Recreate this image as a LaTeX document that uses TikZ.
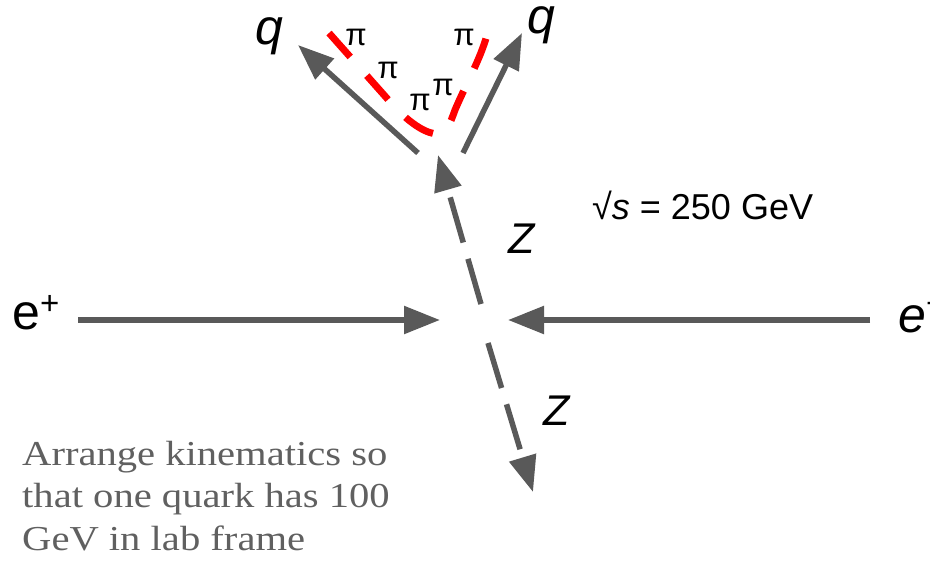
\documentclass[tikz,border=0pt]{standalone}
\usepackage{fontspec}
\setmainfont{Liberation Sans}
\newfontfamily\notefont[FakeStretch=1.16]{Liberation Serif}
\usetikzlibrary{arrows.meta}
\definecolor{arrowgray}{HTML}{595959}
\definecolor{notegray}{HTML}{606060}
\definecolor{pired}{HTML}{FF0000}
\begin{document}
\begin{tikzpicture}[x=1pt,y=-1pt,
  arr/.style={draw=arrowgray, line width=5.5pt, -{Triangle[length=36pt,width=27pt]}},
  zarr/.style={arr, dash pattern=on 47pt off 17pt},
  biglabel/.style={anchor=base west, inner sep=0pt, font=\fontsize{50}{50}\selectfont},
  zlabel/.style={anchor=base west, inner sep=0pt, font=\fontsize{43}{43}\selectfont\itshape},
  pilabel/.style={anchor=center, inner sep=0pt, font=\fontsize{31}{31}\selectfont},
  notetext/.style={anchor=base west, inner sep=0pt, text=notegray, font=\notefont\fontsize{35}{43}\selectfont},
  jet/.style={draw=pired, line width=7pt, dash pattern=on 32pt off 25pt}]
\useasboundingbox (0,0) rectangle (930,563);

% beam endpoints
\coordinate (lt) at (78,320);
\coordinate (ltip) at (440,320);
\coordinate (rt) at (870,320);
\coordinate (rtip) at (508,320);
% Z endpoints
\coordinate (zus) at (481,304);
\coordinate (zut) at (438,155);
\coordinate (zds) at (488,343);
\coordinate (zdt) at (533,492);
% quark endpoints
\coordinate (qls) at (418,153);
\coordinate (qlt) at (298,45);
\coordinate (qrs) at (463,153);
\coordinate (qrt) at (522,33);

\draw[arr] (lt) -- (ltip);
\draw[arr] (rt) -- (rtip);
\draw[zarr] (zus) -- (zut);
\draw[zarr] (zds) -- (zdt);
\draw[arr] (qls) -- (qlt);
\draw[arr] (qrs) -- (qrt);

% pion jet
\coordinate (j0) at (329,33);
\coordinate (j1) at (392,104);
\coordinate (j2) at (438,134);
\coordinate (j3) at (455,110);
\coordinate (j4) at (487,35);
\draw[jet] (j0) -- (j1) .. controls (412,126) and (428,134) .. (j2)
  .. controls (446,134) and (450,124) .. (j3)
  .. controls (466,84) and (480,60) .. (j4);

% labels
\node[biglabel] (ep) at (12,329) {e\raisebox{15pt}{\fontsize{33}{33}\selectfont +}};
\node[biglabel] (em) at (898,332) {\textit{e}\raisebox{18pt}{\fontsize{33}{33}\selectfont −}};
\node[biglabel, font=\fontsize{50}{50}\selectfont\itshape] (ql) at (255,44) {q};
\node[biglabel, font=\fontsize{50}{50}\selectfont\itshape] (qr) at (527,33) {q};
\node[zlabel] (zu) at (508,253) {Z};
\node[zlabel] (zd) at (543,425) {Z};
\node[pilabel] (p1) at (356,37) {π};
\node[pilabel] (p2) at (388,70) {π};
\node[pilabel] (p3) at (420,102) {π};
\node[pilabel] (p4) at (443,87) {π};
\node[pilabel] (p5) at (464,37) {π};
\node[anchor=base west, inner sep=0pt, font=\fontsize{36}{36}\selectfont] (rs) at (592,219) {√\textit{s} = 250 GeV};

\node[notetext] (n1) at (22,465) {Arrange kinematics so};
\node[notetext] (n2) at (22,507) {that one quark has 100};
\node[notetext] (n3) at (22,550) {GeV in lab frame};
\end{tikzpicture}
\end{document}
